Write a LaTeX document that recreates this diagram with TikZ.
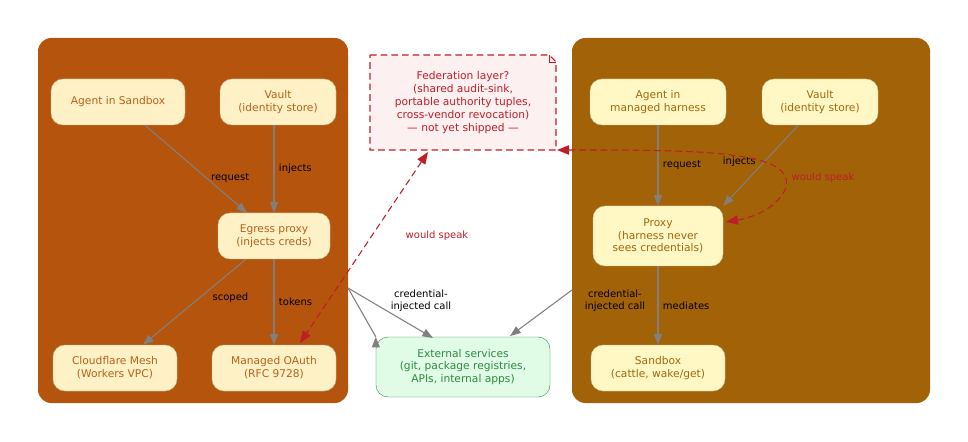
\documentclass[tikz,border=0pt]{standalone}
\usepackage{fontspec}
\setmainfont{DejaVu Sans}
\usetikzlibrary{shapes.misc,arrows.meta}
\definecolor{cl}{HTML}{B5540C}
\definecolor{cr}{HTML}{A26208}
\definecolor{nl}{HTML}{FFF1C6}
\definecolor{nr}{HTML}{FFF7C4}
\definecolor{tl}{HTML}{B5621A}
\definecolor{tr}{HTML}{A0680E}
\definecolor{ext}{HTML}{E0FBE6}
\definecolor{extb}{HTML}{2E8B3E}
\definecolor{red}{HTML}{BD1E28}
\definecolor{notef}{HTML}{FDF0F0}
\begin{document}
\begin{tikzpicture}[x=0.75pt,y=-0.75pt,
  every node/.style={font=\fontsize{8}{9.6}\selectfont,align=center},
  cl/.style={rounded corners=10pt,draw=none},
  box/.style={rectangle,rounded corners=9pt,inner sep=0pt,draw=#1!80!black,line width=0.3pt},
  lb/.style={box=nl,fill=nl,text=tl},
  rb/.style={box=nr,fill=nr,text=tr},
  e/.style={draw=gray,line width=0.8pt,-{Triangle[length=8pt,width=6pt]}},
  r/.style={draw=red,dashed,line width=0.8pt,dash pattern=on 5pt off 3pt},
  el/.style={font=\fontsize{7.5}{9}\selectfont,text=black}]
\useasboundingbox (0,0) rectangle (968,442);
\fill[white] (0,0) rectangle (968,442);
\fill[cl,fill=cl] (38,38) rectangle (348,403);
\fill[cl,fill=cr] (572,38) rectangle (930,403);
% left
\node[lb,minimum width=100.5pt,minimum height=34.5pt] (as) at (118,102) {Agent in Sandbox};
\node[lb,minimum width=87pt,minimum height=34.5pt] (vl) at (278,102) {Vault\\(identity store)};
\node[lb,minimum width=84pt,minimum height=34.5pt] (eg) at (274,236) {Egress proxy\\(injects creds)};
\node[lb,minimum width=93pt,minimum height=34.5pt] (cf) at (115,368) {Cloudflare Mesh\\(Workers VPC)};
\node[lb,minimum width=93pt,minimum height=34.5pt] (oa) at (274,368) {Managed OAuth\\(RFC 9728)};
% right
\node[rb,minimum width=102pt,minimum height=34.5pt] (ah) at (658,102) {Agent in\\managed harness};
\node[rb,minimum width=87pt,minimum height=34.5pt] (vr) at (820,102) {Vault\\(identity store)};
\node[rb,minimum width=97.5pt,minimum height=45pt] (px) at (658,236) {Proxy\\(harness never\\sees credentials)};
\node[rb,minimum width=100.5pt,minimum height=34.5pt] (sb) at (658,368) {Sandbox\\(cattle, wake/get)};
% external
\node[box=ext,fill=ext,draw=extb,text=extb,minimum width=130.5pt,minimum height=45pt] (ex) at (463,367) {External services\\(git, package registries,\\APIs, internal apps)};
% note
\node[rectangle,fill=notef,text=red,minimum width=139.5pt,minimum height=71pt,inner sep=0pt] (nt) at (463,102.5) {Federation layer?\\(shared audit-sink,\\portable authority tuples,\\cross-vendor revocation)\\— not yet shipped —};
\draw[r] (370,55) -- (549,55) -- (556,62) -- (556,150) -- (370,150) -- cycle;
\draw[red,line width=0.5pt] (549,55) -- (549,62) -- (556,62);
% edges
\draw[e] (as) -- (eg) node[el,pos=0.6,right=4pt,xshift=-4pt] {request};
\draw[e] (vl.south-|eg.north) ++(0,0) -- (eg) node[el,midway,right] {injects};
\draw[e] (eg) -- (cf) node[el,pos=0.45,right=6pt] {scoped};
\draw[e] (eg) -- (oa) node[el,midway,right] {tokens};
\coordinate (lc) at (348,288);
\coordinate (rc) at (572,290);
\draw[e] (lc) -- (ex.north west) ++(0,0);
\draw[e] (lc) -- (433,338);
\node[el] (l1) at (421,301) {credential-\\injected call};
\draw[e] (rc) -- (510,336);
\node[el] (l2) at (615,301) {credential-\\injected call};
\draw[e] (ah) -- (px) node[el,midway,right] {request};
\draw[e] (vr) -- (px.north east) node[el,pos=0.45,left=3pt] {injects};
\draw[e] (px) -- (sb) node[el,midway,right] {mediates};
% red
\draw[r,{Triangle[length=9pt,width=7pt]}-{Triangle[length=9pt,width=7pt]}] (428,152) -- (300,343);
\node[el,text=red] at (437,236) {would speak};
\draw[r,{Triangle[length=9pt,width=7pt]}-{Triangle[length=9pt,width=7pt]}] (557,150) .. controls (700,150) and (800,150) .. (785,190) .. controls (775,210) and (750,218) .. (726,222);
\node[el,text=red] at (823,178) {would speak};
\end{tikzpicture}
\end{document}
